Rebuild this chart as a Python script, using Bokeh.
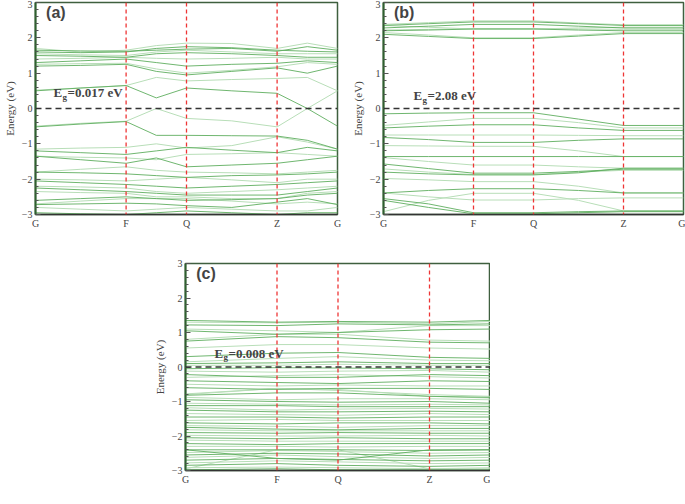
from bokeh.plotting import figure
from bokeh.models import FixedTicker, Span, Label
from bokeh.layouts import column, row
from bokeh.embed import file_html
from bokeh.resources import INLINE

# ---------------- data ----------------
K_TICKS = [0.0, 0.3, 0.5, 0.8, 1.0]
K_LABELS = ["G", "F", "Q", "Z", "G"]
Y_TICKS = [-3, -2, -1, 0, 1, 2, 3]

# panel (a)
KA = [0.0, 0.15, 0.3, 0.4, 0.5, 0.65, 0.8, 0.9, 1.0]
BANDS_A = [
    [0.50, 0.58, 0.65, 0.30, 0.58, 0.50, 0.43, 0.00, -0.50],
    [0.52, 0.58, 0.65, 0.88, 0.78, 0.82, 0.85, 0.88, 0.50],
    [1.20, 1.22, 1.25, 1.05, 0.95, 1.05, 1.15, 1.00, 1.20],
    [1.25, 1.27, 1.28, 1.12, 1.00, 1.08, 1.18, 1.30, 1.25],
    [1.30, 1.35, 1.40, 1.30, 1.20, 1.25, 1.28, 1.35, 1.30],
    [1.40, 1.42, 1.45, 1.42, 1.40, 1.42, 1.45, 1.40, 1.40],
    [1.50, 1.48, 1.45, 1.55, 1.58, 1.55, 1.50, 1.45, 1.45],
    [1.55, 1.52, 1.50, 1.60, 1.65, 1.60, 1.55, 1.55, 1.55],
    [1.60, 1.58, 1.60, 1.70, 1.75, 1.72, 1.65, 1.62, 1.60],
    [1.70, 1.60, 1.65, 1.78, 1.85, 1.84, 1.70, 1.85, 1.70],
    [1.65, 1.63, 1.62, 1.65, 1.68, 1.70, 1.62, 1.75, 1.65],
    [-0.50, -0.42, -0.36, 0.00, -0.28, -0.35, -0.52, 0.00, 0.50],
    [-0.52, -0.44, -0.37, -0.76, -0.76, -0.77, -0.78, -0.90, -1.15],
    [-1.15, -1.12, -1.10, -1.00, -1.12, -1.05, -0.80, -0.95, -1.15],
    [-1.20, -1.25, -1.30, -1.20, -1.10, -1.18, -1.25, -1.10, -1.20],
    [-1.35, -1.38, -1.40, -1.45, -1.30, -1.28, -1.25, -1.30, -1.35],
    [-1.35, -1.45, -1.55, -1.40, -1.65, -1.60, -1.55, -1.45, -1.35],
    [-1.80, -1.72, -1.65, -1.75, -1.80, -1.82, -1.85, -1.80, -1.75],
    [-1.80, -1.82, -1.85, -1.90, -1.95, -1.90, -1.88, -1.85, -1.80],
    [-2.00, -2.02, -2.05, -2.00, -1.95, -2.02, -2.10, -2.00, -2.00],
    [-2.05, -2.10, -2.15, -2.20, -2.25, -2.20, -2.15, -2.10, -2.05],
    [-2.20, -2.22, -2.25, -2.35, -2.40, -2.35, -2.30, -2.25, -2.20],
    [-2.25, -2.30, -2.35, -2.40, -2.45, -2.45, -2.45, -2.35, -2.25],
    [-2.35, -2.38, -2.40, -2.50, -2.50, -2.55, -2.55, -2.40, -2.35],
    [-2.60, -2.55, -2.50, -2.55, -2.60, -2.58, -2.55, -2.45, -2.40],
    [-2.70, -2.62, -2.55, -2.55, -2.55, -2.62, -2.70, -2.65, -2.70],
    [-2.72, -2.70, -2.68, -2.70, -2.75, -2.80, -2.65, -2.55, -2.72],
    [-2.80, -2.85, -2.90, -2.85, -2.80, -2.85, -2.90, -2.90, -2.80],
    [-2.95, -2.98, -3.00, -2.95, -2.90, -2.95, -3.00, -2.95, -2.95],
]

# panel (b)
KB = [0.0, 0.15, 0.3, 0.5, 0.65, 0.8, 1.0]
BANDS_B = [
    [2.10, 2.04, 1.98, 1.98, 2.05, 2.12, 2.12],
    [2.15, 2.08, 2.00, 2.00, 2.08, 2.15, 2.15],
    [2.20, 2.22, 2.25, 2.25, 2.22, 2.20, 2.20],
    [2.22, 2.24, 2.26, 2.26, 2.25, 2.24, 2.24],
    [2.28, 2.33, 2.38, 2.38, 2.33, 2.28, 2.28],
    [2.35, 2.30, 2.25, 2.25, 2.28, 2.30, 2.30],
    [2.35, 2.40, 2.45, 2.45, 2.40, 2.35, 2.35],
    [2.38, 2.43, 2.48, 2.48, 2.42, 2.37, 2.37],
    [-0.15, -0.13, -0.12, -0.12, -0.30, -0.48, -0.48],
    [-0.48, -0.38, -0.28, -0.28, -0.40, -0.55, -0.55],
    [-0.55, -0.50, -0.46, -0.46, -0.55, -0.62, -0.62],
    [-0.75, -0.75, -0.75, -0.75, -0.76, -0.77, -0.77],
    [-0.82, -0.88, -0.96, -0.96, -0.90, -0.86, -0.86],
    [-1.05, -1.06, -1.07, -1.07, -1.20, -1.36, -1.36],
    [-1.36, -1.36, -1.36, -1.36, -1.36, -1.36, -1.36],
    [-1.39, -1.50, -1.60, -1.60, -1.65, -1.69, -1.69],
    [-1.57, -1.70, -1.83, -1.83, -1.78, -1.72, -1.72],
    [-1.71, -1.80, -1.87, -1.87, -1.80, -1.75, -1.75],
    [-1.80, -1.85, -1.88, -1.88, -1.82, -1.69, -1.69],
    [-1.98, -2.02, -2.07, -2.07, -2.20, -2.39, -2.39],
    [-2.39, -2.32, -2.27, -2.27, -2.32, -2.39, -2.39],
    [-2.39, -2.50, -2.59, -2.59, -2.55, -2.53, -2.53],
    [-2.55, -2.70, -2.95, -2.95, -2.92, -2.90, -2.90],
    [-2.92, -2.60, -2.40, -2.40, -2.60, -2.90, -2.90],
    [-2.60, -2.80, -2.98, -2.98, -2.95, -2.92, -2.92],
]

# panel (c)
KC = [0.0, 0.3, 0.5, 0.8, 1.0]
BANDS_C = [
    [1.35, 1.30, 1.32, 1.30, 1.35],
    [1.30, 1.28, 1.30, 1.25, 1.32],
    [1.22, 1.20, 1.25, 1.22, 1.25],
    [1.10, 1.05, 1.00, 1.20, 1.20],
    [1.05, 0.95, 1.00, 1.08, 1.10],
    [0.80, 0.95, 0.95, 0.78, 0.75],
    [0.75, 0.88, 0.85, 0.72, 0.70],
    [0.55, 0.65, 0.65, 0.55, 0.52],
    [0.30, 0.40, 0.42, 0.28, 0.25],
    [0.15, 0.25, 0.30, 0.20, 0.18],
    [0.10, 0.12, 0.15, 0.10, 0.10],
    [0.05, 0.05, 0.08, 0.05, 0.05],
    [-0.05, -0.02, -0.03, -0.05, -0.08],
    [-0.12, -0.15, -0.12, -0.10, -0.15],
    [-0.22, -0.30, -0.30, -0.22, -0.25],
    [-0.30, -0.25, -0.22, -0.28, -0.32],
    [-0.40, -0.45, -0.48, -0.40, -0.42],
    [-0.50, -0.55, -0.52, -0.55, -0.55],
    [-0.60, -0.65, -0.62, -0.62, -0.65],
    [-0.78, -0.62, -0.68, -0.80, -0.85],
    [-0.82, -0.75, -0.75, -0.85, -0.88],
    [-0.88, -0.95, -0.92, -0.92, -0.95],
    [-0.95, -1.00, -1.02, -1.00, -1.05],
    [-1.05, -1.08, -1.10, -1.08, -1.10],
    [-1.12, -1.12, -1.15, -1.15, -1.15],
    [-1.18, -1.25, -1.22, -1.20, -1.22],
    [-1.25, -1.30, -1.30, -1.28, -1.30],
    [-1.35, -1.38, -1.40, -1.35, -1.38],
    [-1.45, -1.45, -1.48, -1.45, -1.45],
    [-1.55, -1.52, -1.55, -1.55, -1.55],
    [-1.62, -1.65, -1.62, -1.62, -1.65],
    [-1.70, -1.72, -1.75, -1.70, -1.70],
    [-1.75, -1.80, -1.82, -1.78, -1.78],
    [-1.82, -1.85, -1.85, -1.85, -1.85],
    [-1.90, -1.92, -1.90, -1.92, -1.92],
    [-1.98, -2.00, -2.00, -1.98, -2.00],
    [-2.05, -2.08, -2.05, -2.08, -2.08],
    [-2.12, -2.15, -2.15, -2.15, -2.15],
    [-2.22, -2.25, -2.22, -2.22, -2.22],
    [-2.30, -2.30, -2.32, -2.30, -2.30],
    [-2.40, -2.40, -2.40, -2.42, -2.40],
    [-2.48, -2.42, -2.45, -2.50, -2.48],
    [-2.55, -2.50, -2.52, -2.58, -2.55],
    [-2.62, -2.55, -2.60, -2.65, -2.62],
    [-2.70, -2.65, -2.68, -2.72, -2.70],
    [-2.78, -2.72, -2.75, -2.80, -2.78],
    [-2.85, -2.80, -2.85, -2.88, -2.85],
    [-2.92, -2.90, -2.92, -2.95, -2.92],
    [-2.98, -2.95, -2.98, -2.98, -2.98],
    [-2.95, -2.40, -2.40, -2.95, -2.95],
    [-2.40, -2.65, -2.70, -2.40, -2.40],
    [-0.80, -0.62, -0.65, -0.85, -0.90],
]

PANELS = ["(a)", "(b)", "(c)"]
GAPS = ["=0.017 eV", "=2.08 eV", "=0.008 eV"]

# ---------------- styling ----------------
DARK = "#5fae5f"
LIGHT = "#b8deb8"
SERIF = "Liberation Serif"


def make_panel(kgrid, bands, tag, gap, fw, fh, mb, tag_pos, gap_pos):
    p = figure(frame_width=fw, frame_height=fh, x_range=(0, 1), y_range=(-3, 3),
               output_backend="svg", toolbar_location=None,
               min_border_left=mb[0], min_border_right=mb[1],
               min_border_top=mb[2], min_border_bottom=mb[3])
    p.xgrid.visible = False
    p.ygrid.visible = False
    p.outline_line_color = "#3f5f3f"
    p.outline_line_width = 1.5

    light_x = [list(kgrid) for i, b in enumerate(bands) if i % 2 == 1]
    light_y = [list(b) for i, b in enumerate(bands) if i % 2 == 1]
    dark_x = [list(kgrid) for i, b in enumerate(bands) if i % 2 == 0]
    dark_y = [list(b) for i, b in enumerate(bands) if i % 2 == 0]
    p.multi_line(light_x, light_y, line_color=LIGHT, line_width=1.0)
    p.multi_line(dark_x, dark_y, line_color=DARK, line_width=0.9)

    for kv in K_TICKS[1:-1]:
        p.add_layout(Span(location=kv, dimension="height", line_color="#ee3535",
                          line_dash="4 3", line_width=1.3))
    p.add_layout(Span(location=0, dimension="width", line_color="#333333",
                      line_dash="6 4", line_width=1.5))

    # axes
    p.xaxis.ticker = FixedTicker(ticks=K_TICKS)
    p.xaxis.major_label_overrides = {k: l for k, l in zip(K_TICKS, K_LABELS)}
    p.xaxis.major_tick_in = 0
    p.xaxis.major_tick_out = 0
    p.xaxis.minor_tick_out = 0
    p.xaxis.axis_line_color = "#333333"
    p.xaxis.axis_line_width = 1.5
    p.xaxis.major_label_text_font = SERIF
    p.xaxis.major_label_text_font_size = "10px"
    p.xaxis.major_label_standoff = 3

    minor = [-3 + 0.2 * i for i in range(31)]
    p.yaxis.ticker = FixedTicker(ticks=Y_TICKS, minor_ticks=minor)
    p.yaxis.major_tick_in = 5
    p.yaxis.major_tick_out = 0
    p.yaxis.minor_tick_in = 3
    p.yaxis.minor_tick_out = 0
    p.yaxis.major_tick_line_color = "#555555"
    p.yaxis.minor_tick_line_color = "#555555"
    p.yaxis.axis_line_color = "#2f5f2f"
    p.yaxis.axis_line_width = 2
    p.yaxis.major_label_text_font = SERIF
    p.yaxis.major_label_text_font_size = "10px"
    p.yaxis.major_label_standoff = 3
    p.yaxis.axis_label = "Energy (eV)"
    p.yaxis.axis_label_text_font = SERIF
    p.yaxis.axis_label_text_font_style = "normal"
    p.yaxis.axis_label_text_font_size = "11px"
    p.yaxis.axis_label_standoff = 3

    p.add_layout(Label(x=tag_pos[0], y=tag_pos[1], text=tag, text_font="Liberation Sans",
                       text_font_style="bold", text_font_size="16px",
                       text_baseline="middle"))
    gx, gy = gap_pos
    p.add_layout(Label(x=gx, y=gy, text="E", text_font=SERIF, text_font_style="bold",
                       text_font_size="13px", text_baseline="middle"))
    p.add_layout(Label(x=gx, y=gy, x_offset=9, y_offset=-4, text="g", text_font=SERIF,
                       text_font_style="bold", text_font_size="9px",
                       text_baseline="middle"))
    p.add_layout(Label(x=gx, y=gy, x_offset=14, text=gap, text_font=SERIF,
                       text_font_style="bold", text_font_size="13px",
                       text_baseline="middle"))
    return p


pa = make_panel(KA, BANDS_A, PANELS[0], GAPS[0], 302, 212, (27, 11, 2, 16),
                (0.035, 2.72), (0.06, 0.45))
pb = make_panel(KB, BANDS_B, PANELS[1], GAPS[1], 300, 212, (27, 2, 2, 16),
                (0.035, 2.72), (0.10, 0.36))
pc = make_panel(KC, BANDS_C, PANELS[2], GAPS[2], 305, 207, (185, 0, 32, 16),
                (0.035, 2.72), (0.095, 0.40))

layout = column(row(pa, pb), pc)
open("out.html", "w").write(file_html(layout, INLINE))
